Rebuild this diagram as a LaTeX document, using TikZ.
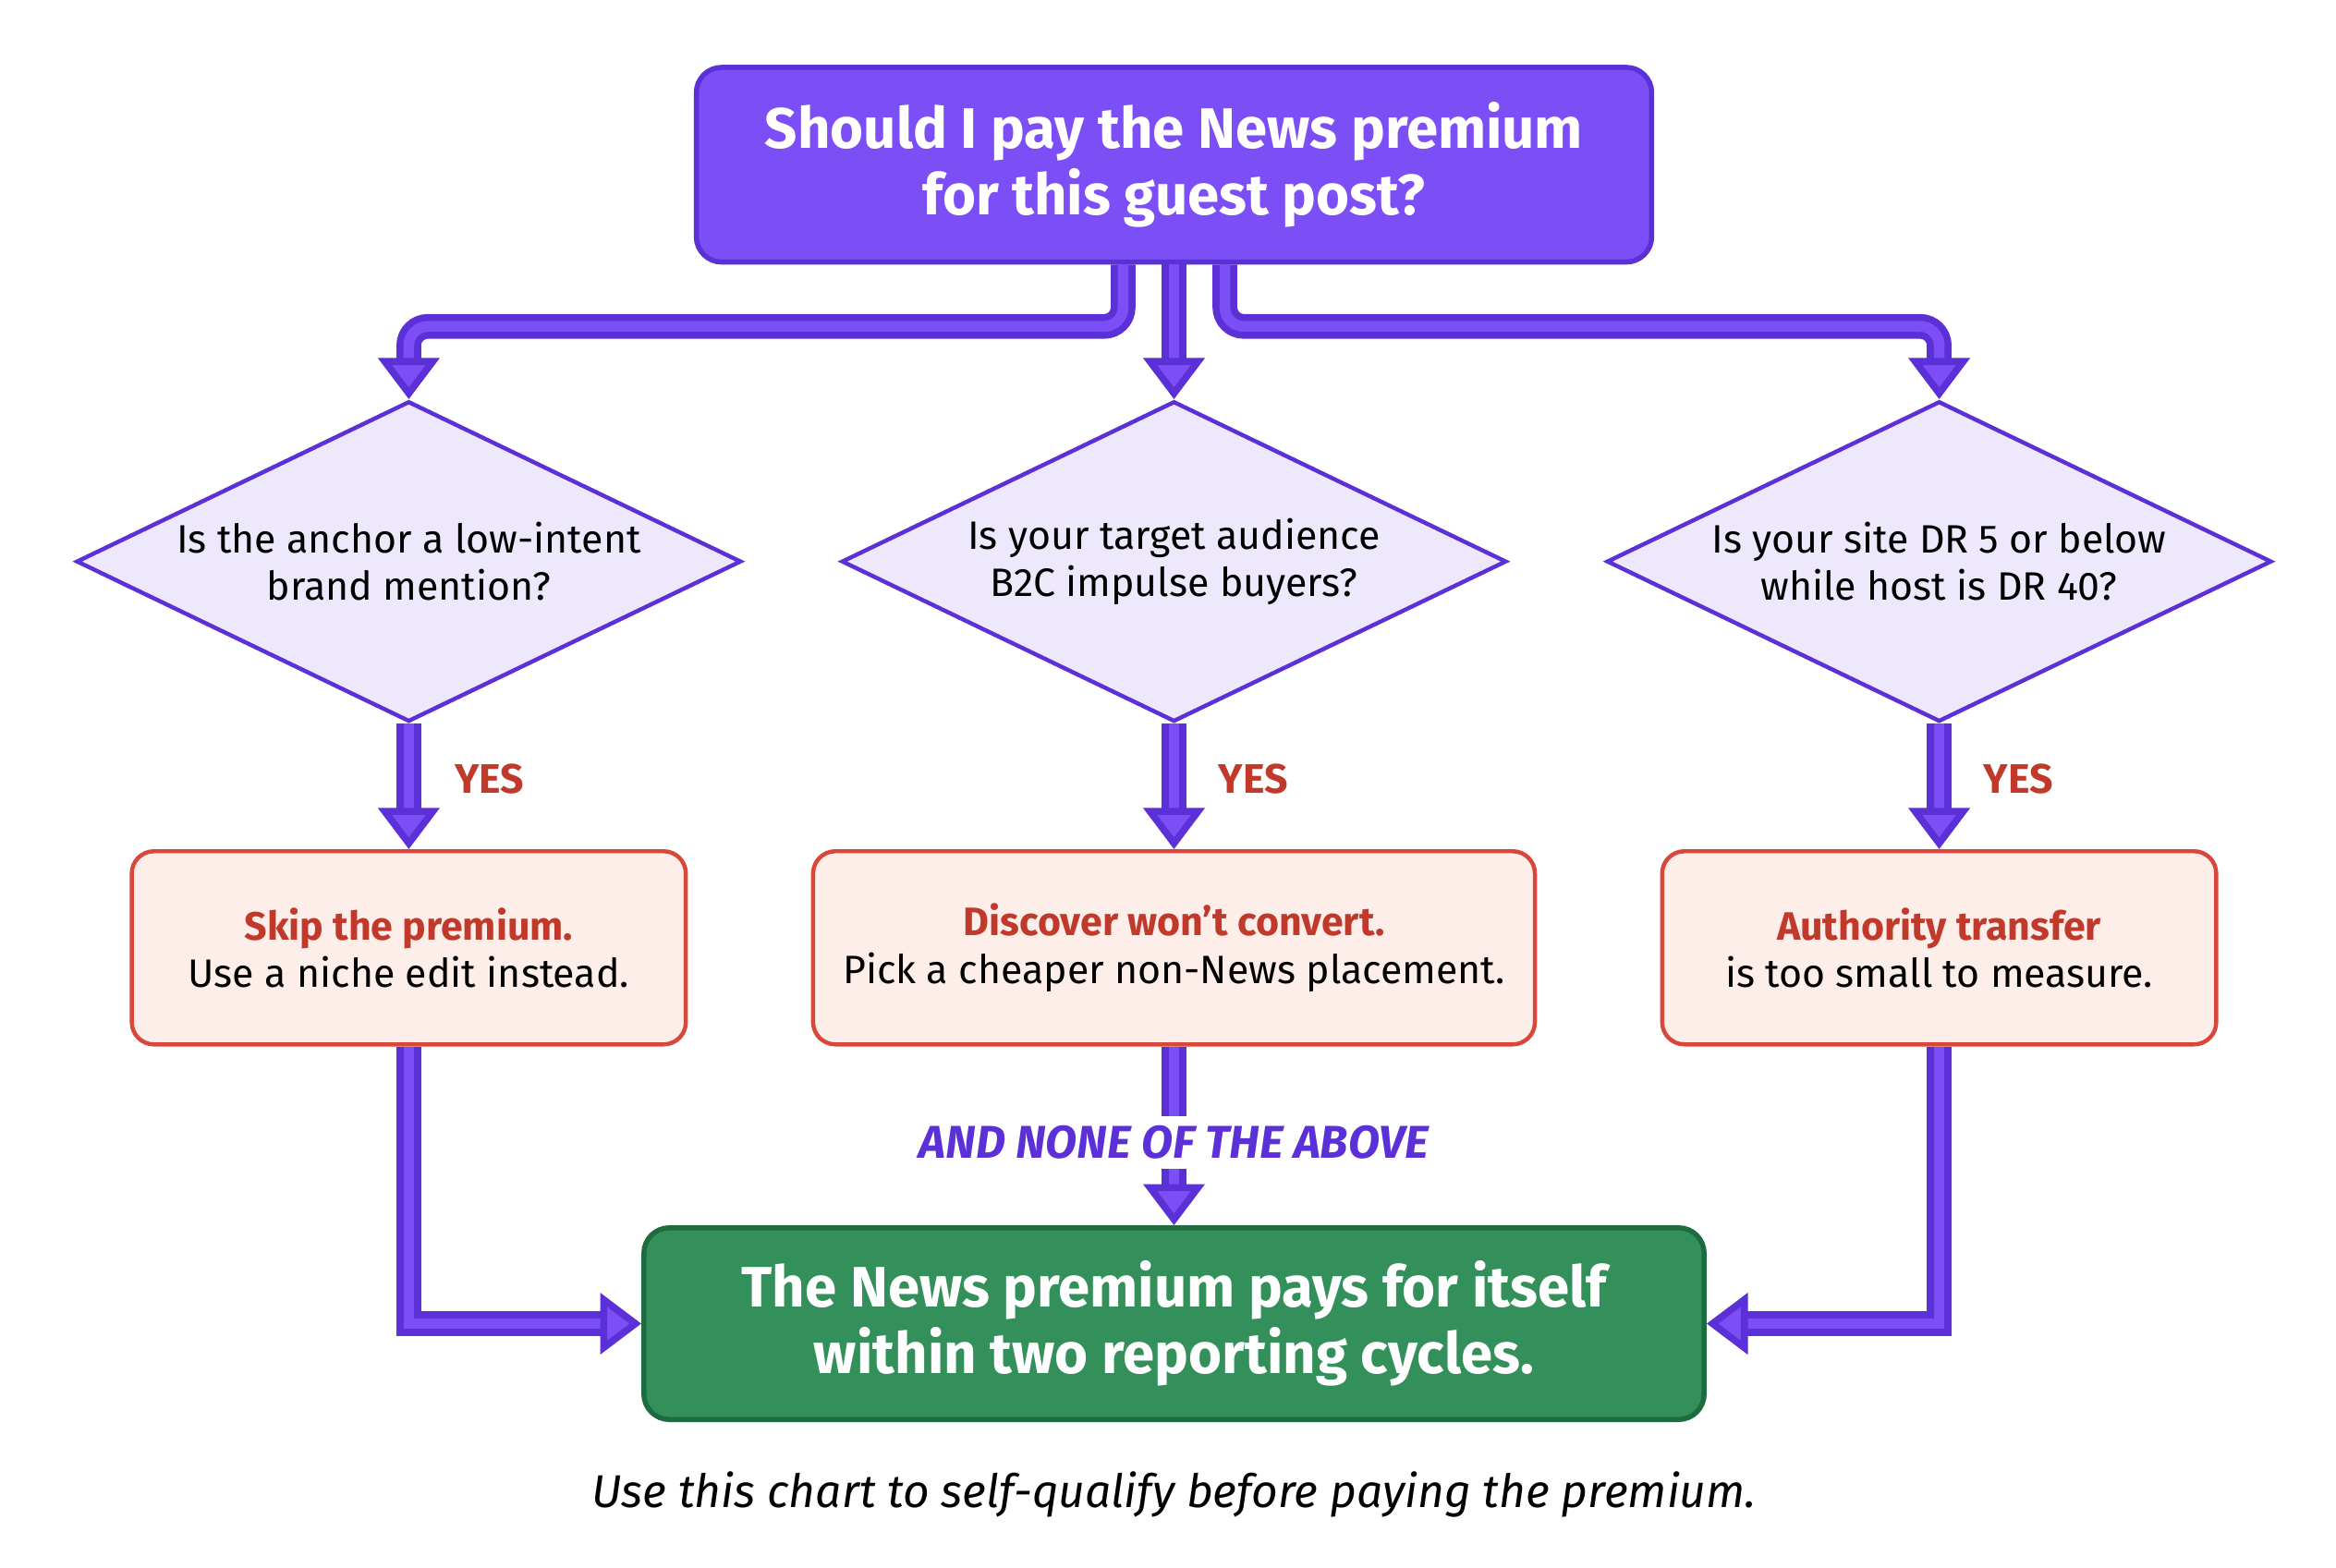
\documentclass[tikz,border=0pt]{standalone}
\usepackage{fontspec}
\setmainfont{Fira Sans}
\usetikzlibrary{arrows.meta,shapes.geometric}
\definecolor{pur}{HTML}{7B4FF5}
\definecolor{purd}{HTML}{5B30D6}
\definecolor{lav}{HTML}{EEE8FD}
\definecolor{redb}{HTML}{D9473B}
\definecolor{redf}{HTML}{FDEEEA}
\definecolor{redt}{HTML}{C0392B}
\definecolor{grn}{HTML}{34905A}
\definecolor{grnd}{HTML}{1F6B40}
\begin{document}
\begin{tikzpicture}[x=0.4725pt,y=-0.4725pt,
 conn/.style={draw=purd,line width=2.2pt,double=pur,double distance=3.4pt,-{Triangle[length=13pt,width=19pt,fill=pur]}},
 dia/.style={diamond,aspect=2.07,draw=purd,line width=1.3pt,fill=lav,minimum width=444*0.4725pt,minimum height=214*0.4725pt,inner sep=0pt,align=center,font=\fontsize{12.5}{15}\selectfont},
 rbox/.style={draw=redb,line width=1.3pt,fill=redf,rounded corners=7pt,minimum width=370*0.4725pt,minimum height=129*0.4725pt,align=center,font=\fontsize{12.5}{15}\selectfont},
 yes/.style={text=redt,font=\bfseries\fontsize{13}{15}\selectfont}]
\useasboundingbox[fill=white] (0,0) rectangle (1560,1047);
\node[draw=purd,line width=1.6pt,fill=pur,rounded corners=8pt,minimum width=638*0.4725pt,minimum height=130*0.4725pt,align=center,text=white,font=\bfseries\fontsize{18}{21}\selectfont] (top) at (784,110) {Should I pay the News premium\\for this guest post?};
\node[dia] (d1) at (273,375) {Is the anchor a low-intent\\brand mention?};
\node[dia] (d2) at (784,375) {Is your target audience\\B2C impulse buyers?};
\node[dia] (d3) at (1295,375) {Is your site DR 5 or below\\while host is DR 40?};
\node[rbox] (b1) at (273,633) {\textcolor{redt}{\bfseries Skip the premium.}\\Use a niche edit instead.};
\node[rbox,minimum width=482*0.4725pt] (b2) at (784,633) {\textcolor{redt}{\bfseries Discover won’t convert.}\\Pick a cheaper non-News placement.};
\node[rbox] (b3) at (1295,633) {\textcolor{redt}{\bfseries Authority transfer}\\is too small to measure.};
\node[draw=grnd,line width=1.6pt,fill=grn,rounded corners=8pt,minimum width=708*0.4725pt,minimum height=128*0.4725pt,align=center,text=white,font=\bfseries\fontsize{18}{21}\selectfont] (g) at (784,884) {The News premium pays for itself\\within two reporting cycles.};
\coordinate (l1) at (750,218); \coordinate (l2) at (273,218);
\coordinate (r1) at (818,218); \coordinate (r2) at (1295,218);
\draw[conn,rounded corners=6pt] (top.south -| l1) -- (l1) -- (l2) -- (d1.north);
\draw[conn,rounded corners=6pt] (top.south -| r1) -- (r1) -- (r2) -- (d3.north);
\draw[conn] (top.south) -- (d2.north);
\foreach \i in {1,2,3}{\draw[conn] (d\i.south) -- (b\i.north);}
\node[yes] at (327,520) {YES};
\node[yes] at (837,520) {YES};
\node[yes] at (1348,520) {YES};
\coordinate (c1) at (273,884); \coordinate (c3) at (1295,884);
\draw[conn] (b1.south) -- (c1) -- (g.west);
\draw[conn] (b3.south) -- (c3) -- (g.east);
\draw[conn] (b2.south) -- (g.north);
\node[fill=white,inner sep=3pt,text=purd,font=\bfseries\itshape\fontsize{14.5}{17}\selectfont] (lab) at (784,763) {AND NONE OF THE ABOVE};
\node[font=\itshape\fontsize{14.5}{17}\selectfont] (cap) at (784,998) {Use this chart to self-qualify before paying the premium.};
\end{tikzpicture}
\end{document}
